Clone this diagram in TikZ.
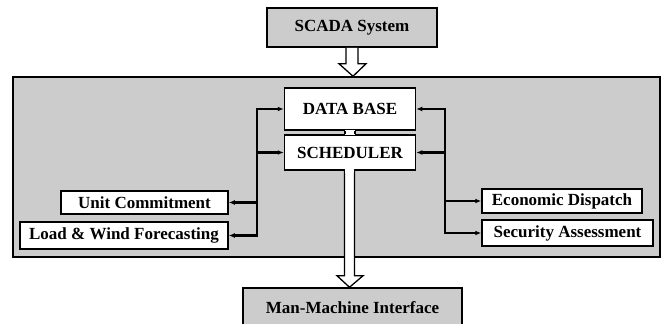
\documentclass[tikz,border=0pt]{standalone}
\usepackage{fontspec}
\setmainfont{Liberation Serif}
\usetikzlibrary{arrows.meta,calc}
\tikzset{
  box/.style={draw, line width=1.5pt, fill=white, inner sep=0pt,
    font=\bfseries\fontsize{17}{19}\selectfont},
  graybox/.style={box, fill=black!20},
  conn/.style={line width=2.2pt},
  tip/.style={conn, -{Latex[length=6pt,width=5pt]}},
  hollow/.style={draw, line width=1.3pt, fill=white, line join=miter},
}
\begin{document}
\begin{tikzpicture}[x=1pt,y=-1pt]
    \clip (0,0) rectangle (665,324);
    \fill[white] (0,0) rectangle (665,324);
    % outer panel
    \node[graybox, minimum width=647, minimum height=180] (ems) at (336.5,167) {};
    \node[graybox, minimum width=170, minimum height=39] (scada) at (352,27.5) {SCADA System};
    \node[graybox, minimum width=219, minimum height=44] (mmi) at (352.5,310) {\raisebox{4pt}{Man-Machine Interface}};
    % core blocks
    \node[box, minimum width=131, minimum height=42] (db) at (350,109) {DATA BASE};
    \node[box, minimum width=131, minimum height=35] (sch) at (350,152.5) {SCHEDULER};
    % applications
    \node[box, minimum width=167, minimum height=23] (uc) at (144.5,202.5) {Unit Commitment};
    \node[box, minimum width=208, minimum height=27] (lwf) at (124,235.5) {Load \& Wind Forecasting};
    \node[box, minimum width=160, minimum height=24] (ed) at (562,201) {Economic Dispatch};
    \node[box, minimum width=171, minimum height=26] (sa) at (567.5,233) {Security Assessment};
    % buses
    \coordinate (lt) at (257,109);
    \coordinate (lb) at (257,235.5);
    \coordinate (rt) at (445,109);
    \coordinate (rb) at (445,233);
    \draw[conn, line cap=rect] (lt) -- (lb);
    \draw[conn, line cap=rect] (rt) -- (rb);
    \draw[tip] (lt) -- (db);
    \draw[tip] (lt |- sch) -- (sch);
    \draw[tip] (lt |- uc) -- (uc);
    \draw[tip] (lb) -- (lwf);
    \draw[tip] (rt) -- (db);
    \draw[tip] (rt |- sch) -- (sch);
    \draw[tip] (rt |- ed) -- (ed);
    \draw[tip] (rb) -- (sa);
    % hollow arrow SCADA -> panel
    \draw[hollow] ($(scada.south)+(-6,0)$) -- ++(0,16) -- ++(-7,0) -- ($(ems.north)+(16.5,0)$)
      -- ($(scada.south)+(14,16)$) -- ++(-8,0) -- ++(0,-16);
    % channel DATA BASE -- SCHEDULER
    \fill[white] ($(db.south)+(-5,-1)$) rectangle ($(sch.north)+(5,1)$);
    \draw[line width=1.3pt] ($(db.south)+(-5,0)$) -- ($(sch.north)+(-5,0)$)
      ($(db.south)+(5,0)$) -- ($(sch.north)+(5,0)$);
    % hollow arrow SCHEDULER -> MMI
    \draw[hollow] ($(sch.south)+(-5.5,-1)$) -- ++(0,106) -- ++(-7.5,0) -- ($(mmi.north)+(-3,0)$)
      -- ($(sch.south)+(13,105)$) -- ++(-8.5,0) -- ++(0,-106);
    \fill[white] ($(sch.south)+(-4.8,-2)$) rectangle ($(sch.south)+(4,2)$);
\end{tikzpicture}
\end{document}
